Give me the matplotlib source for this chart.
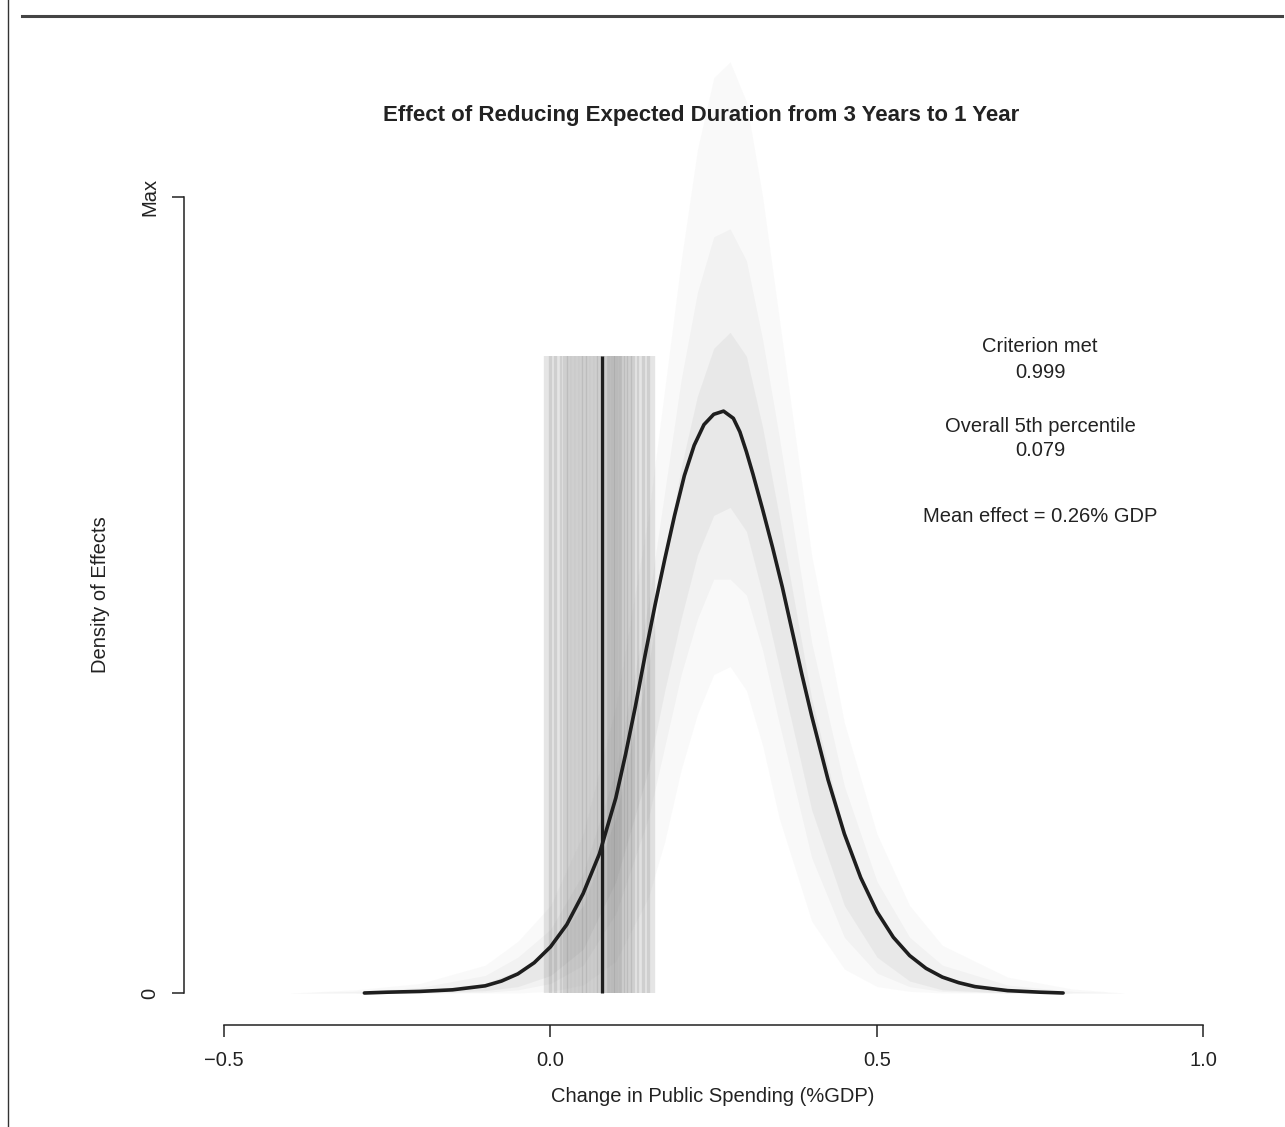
import matplotlib
matplotlib.use("Agg")
import matplotlib.pyplot as plt
from matplotlib.lines import Line2D

plt.rcParams['font.family'] = ['Liberation Sans', 'DejaVu Sans']

# pooled density of effects (scaled so the tallest single draw = 1, "Max")
curve_x = [-0.285, -0.25, -0.20, -0.15, -0.10, -0.075, -0.05, -0.025, 0.0, 0.025,
           0.05, 0.075, 0.10, 0.115, 0.13, 0.145, 0.16, 0.175, 0.19, 0.205,
           0.22, 0.235, 0.25, 0.265, 0.28, 0.29, 0.30, 0.31, 0.325, 0.34,
           0.355, 0.37, 0.385, 0.40, 0.425, 0.45, 0.475, 0.50, 0.525, 0.55,
           0.575, 0.60, 0.625, 0.65, 0.70, 0.75, 0.785]
curve_y = [0.000, 0.001, 0.002, 0.004, 0.009, 0.015, 0.024, 0.038, 0.058, 0.086,
           0.125, 0.175, 0.245, 0.300, 0.360, 0.425, 0.487, 0.545, 0.600, 0.650,
           0.688, 0.714, 0.727, 0.731, 0.722, 0.705, 0.680, 0.652, 0.607, 0.560,
           0.510, 0.455, 0.400, 0.348, 0.268, 0.200, 0.145, 0.102, 0.070, 0.047,
           0.031, 0.020, 0.013, 0.008, 0.003, 0.001, 0.000]

# envelopes of the individual draw densities (faint cloud)
band_x = [-0.40, -0.30, -0.20, -0.10, -0.05, 0.00, 0.05, 0.10, 0.15, 0.175,
          0.20, 0.225, 0.25, 0.275, 0.30, 0.325, 0.35, 0.40, 0.45, 0.50,
          0.55, 0.60, 0.70, 0.80, 0.88]
haze_hi = [0.000, 0.004, 0.012, 0.035, 0.065, 0.11, 0.20, 0.36, 0.60, 0.76,
           0.92, 1.06, 1.15, 1.17, 1.12, 1.00, 0.85, 0.55, 0.34, 0.20,
           0.11, 0.06, 0.02, 0.005, 0.000]
haze_lo = [0.000, 0.000, 0.000, 0.000, 0.000, 0.002, 0.010, 0.040, 0.12, 0.19,
           0.28, 0.35, 0.40, 0.41, 0.38, 0.31, 0.22, 0.09, 0.03, 0.008,
           0.002, 0.000, 0.000, 0.000, 0.000]
mid_hi = [0.000, 0.002, 0.007, 0.022, 0.045, 0.08, 0.15, 0.28, 0.49, 0.63,
          0.77, 0.88, 0.95, 0.96, 0.92, 0.82, 0.70, 0.44, 0.26, 0.14,
          0.07, 0.035, 0.010, 0.002, 0.000]
mid_lo = [0.000, 0.000, 0.000, 0.001, 0.004, 0.012, 0.035, 0.10, 0.22, 0.31,
          0.40, 0.47, 0.52, 0.52, 0.50, 0.43, 0.34, 0.17, 0.07, 0.025,
          0.008, 0.002, 0.000, 0.000, 0.000]
core_hi = [0.000, 0.000, 0.003, 0.012, 0.028, 0.055, 0.11, 0.22, 0.41, 0.54,
           0.66, 0.75, 0.81, 0.83, 0.80, 0.71, 0.60, 0.37, 0.20, 0.10,
           0.045, 0.020, 0.004, 0.000, 0.000]
core_lo = [0.000, 0.000, 0.000, 0.003, 0.008, 0.022, 0.055, 0.14, 0.28, 0.38,
           0.47, 0.55, 0.60, 0.61, 0.58, 0.50, 0.41, 0.23, 0.11, 0.045,
           0.015, 0.004, 0.000, 0.000, 0.000]

# 5th percentile of each draw, and the overall one
pct_draws = [-0.004, 0.004, 0.012, 0.020, 0.026, 0.032, 0.038, 0.044, 0.050, 0.055,
             0.060, 0.066, 0.072, 0.078, 0.084, 0.088, 0.092, 0.096, 0.100, 0.104,
             0.108, 0.112, 0.118, 0.124, 0.130, 0.138, 0.146, 0.154]
pct_overall = 0.079
pct_height = 0.80

x_ticks = [-0.5, 0.0, 0.5, 1.0]
x_ticklabels = ['\u22120.5', '0.0', '0.5', '1.0']
y_ticks = [0, 1]
y_ticklabels = ['0', 'Max']

W, H = 1285, 1127
fig = plt.figure(figsize=(W / 100, H / 100), dpi=100)


def fx(x):
    return x / W


def fy(y):
    return 1 - y / H


ax = fig.add_axes([fx(184), fy(1025), (1243 - 184) / W, (1025 - 40) / H])
ax.set_xlim(-0.5 - 40 / 653, -0.5 + (1243 - 224) / 653)
ax.set_ylim(-32 / 796, (993 - 40) / 796)

ax.fill_between(band_x, haze_lo, haze_hi, color='#707070', alpha=0.035, lw=0)
ax.fill_between(band_x, mid_lo, mid_hi, color='#707070', alpha=0.05, lw=0)
ax.fill_between(band_x, core_lo, core_hi, color='#707070', alpha=0.07, lw=0)

ax.vlines(pct_draws, 0, pct_height, colors='#606060', alpha=0.16, lw=6)
ax.vlines(pct_overall, 0, pct_height, colors='#1e1e1e', lw=2.3)

ax.plot(curve_x, curve_y, color='#1e1e1e', lw=2.6, solid_capstyle='round',
        solid_joinstyle='round')

for s in ['top', 'right']:
    ax.spines[s].set_visible(False)
ax.spines['left'].set_bounds(0, 1)
ax.spines['bottom'].set_bounds(-0.5, 1.0)
for s in ['left', 'bottom']:
    ax.spines[s].set_linewidth(1.1)
    ax.spines[s].set_color('#222222')

ax.set_xticks(x_ticks)
ax.set_xticklabels(x_ticklabels, fontsize=14.5, color='#222222')
ax.set_yticks(y_ticks)
ax.set_yticklabels(y_ticklabels, fontsize=14.5, color='#222222', rotation=90, va='center')
ax.tick_params(axis='both', direction='out', length=8.5, width=1.1, color='#222222')
ax.tick_params(axis='x', pad=10)
ax.tick_params(axis='y', pad=9)
ax.patch.set_alpha(0)

fig.text(fx(701), fy(115), 'Effect of Reducing Expected Duration from 3 Years to 1 Year',
         ha='center', va='center', fontsize=16, fontweight='bold', color='#222222')
fig.text(fx(100), fy(595), 'Density of Effects', rotation=90, ha='center', va='center',
         fontsize=14.5, color='#222222')
fig.text(fx(713), fy(1097), 'Change in Public Spending (%GDP)', ha='center', va='center',
         fontsize=14.5, color='#222222')

notes = [('Criterion met', 347), ('0.999', 372), ('Overall 5th percentile', 426),
         ('0.079', 450), ('Mean effect = 0.26% GDP', 517)]
for txt, yy in notes:
    fig.text(fx(1040), fy(yy), txt, ha='center', va='center', fontsize=14.5, color='#222222')

# page furniture from the scanned figure: top rule and left border
fig.add_artist(Line2D([fx(22), fx(1282)], [fy(16), fy(16)], color='#444444', lw=2.2))
fig.add_artist(Line2D([fx(8), fx(8)], [fy(0), fy(H)], color='#333333', lw=1.0))

fig.savefig('out.png', dpi=100)
